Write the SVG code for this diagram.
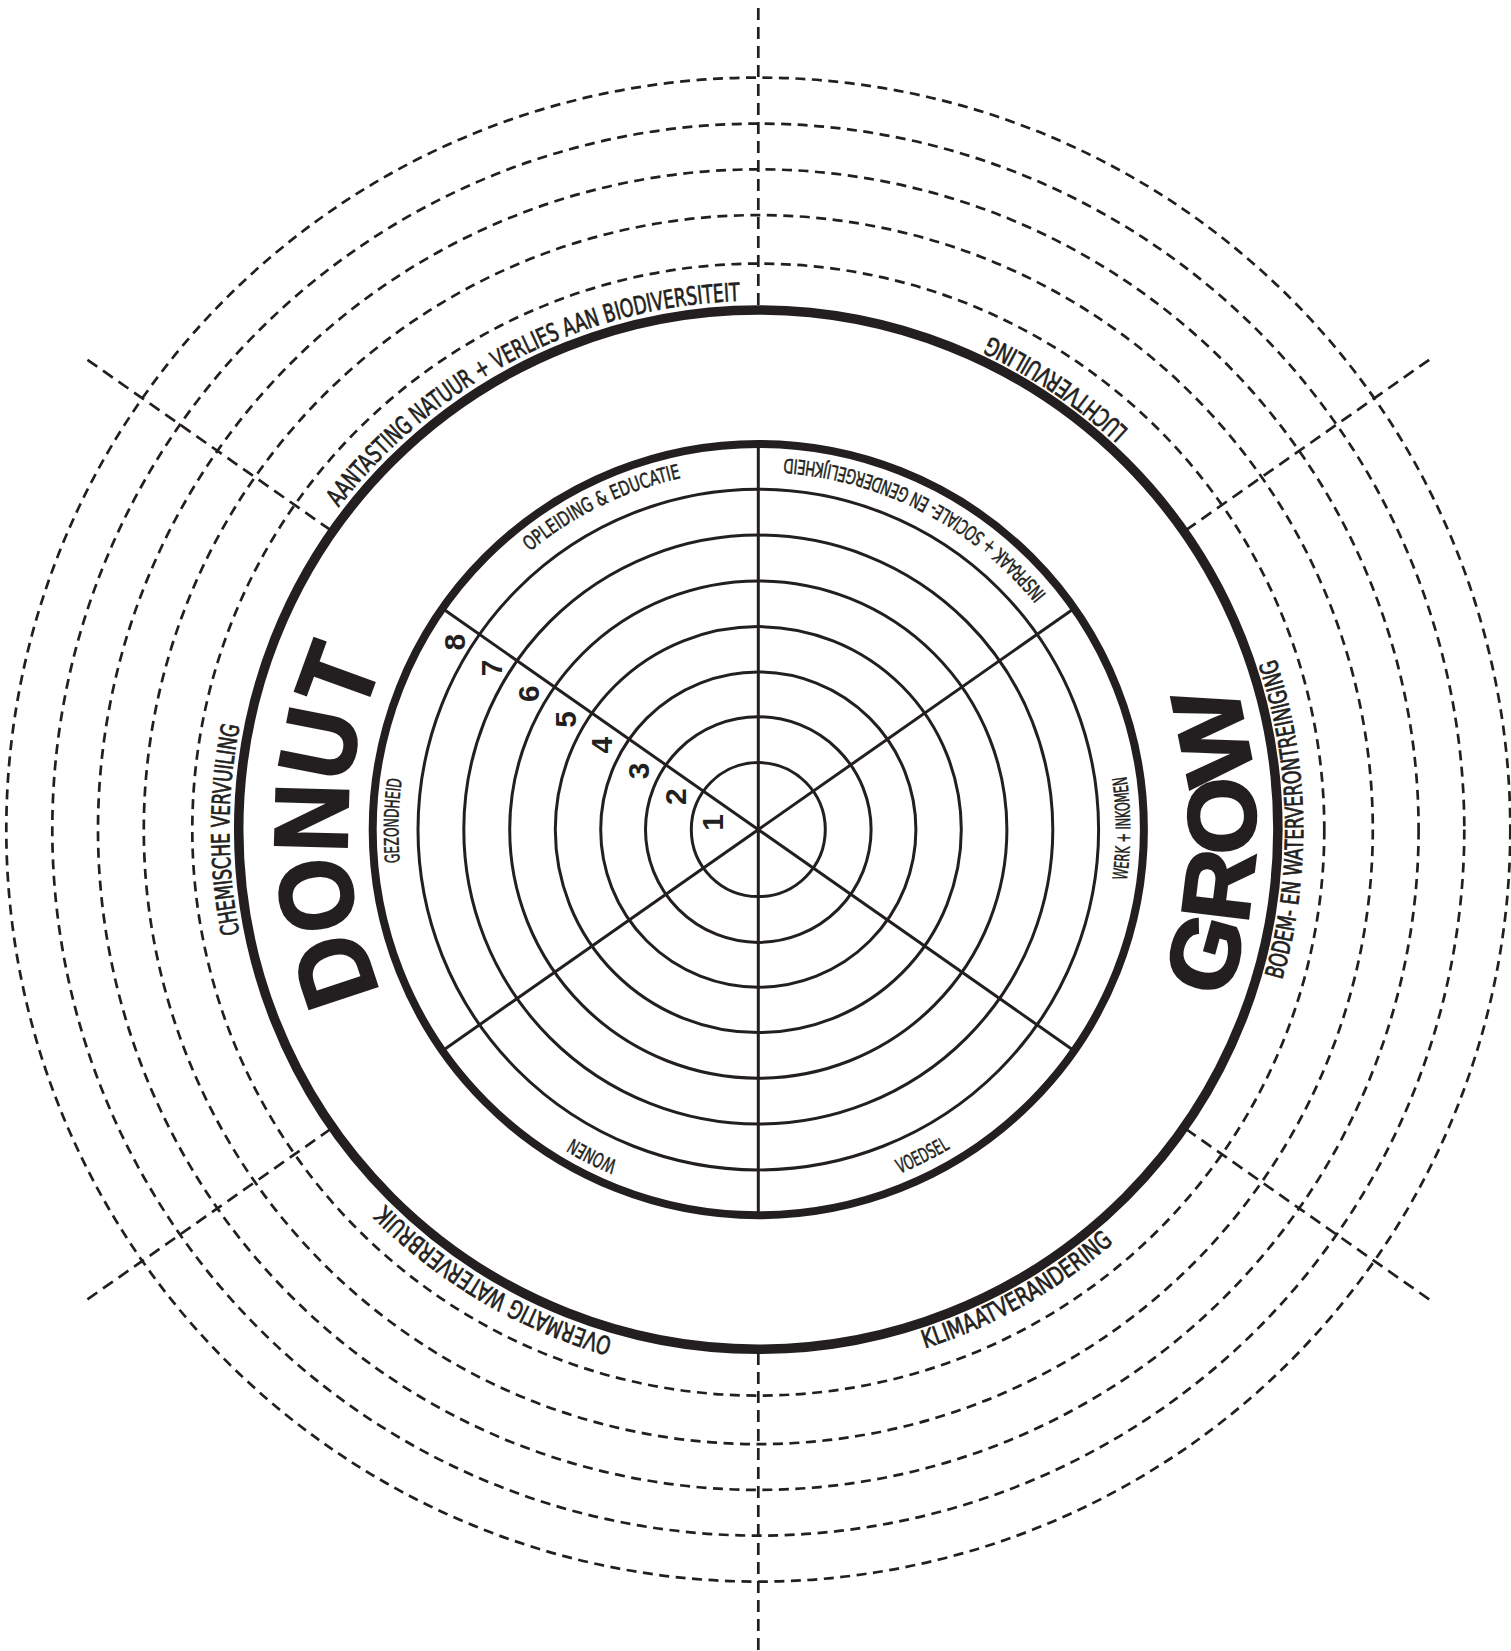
<svg xmlns="http://www.w3.org/2000/svg" width="1511" height="1651" viewBox="0 0 1511 1651">
<style>
.dc{fill:none;stroke:#231f20;stroke-width:2.7;stroke-dasharray:10 6.5}
.dl{fill:none;stroke:#231f20;stroke-width:2.7;stroke-dasharray:12 7}
.ring{fill:none;stroke:#231f20;stroke-width:3}
.spoke{stroke:#231f20;stroke-width:3}
.lbl{font-family:"Liberation Sans Narrow","DejaVu Sans Condensed","Liberation Sans",sans-serif;fill:#231f20;stroke:#231f20;stroke-width:0.7;font-size:25px}
.ilbl{font-family:"Liberation Sans Narrow","DejaVu Sans Condensed","Liberation Sans",sans-serif;fill:#231f20;stroke:#231f20;stroke-width:0.5;font-size:20px}
.num{font-family:"Liberation Sans",Arial,sans-serif;font-weight:bold;font-size:30px;fill:#231f20}
.big{font-family:"Liberation Sans",Arial,sans-serif;font-weight:bold;fill:#231f20;stroke:#231f20;stroke-width:2.5}
</style>
<defs>
<path id="pAan" d="M290.1,583.3 A529,529 0 0 1 829.7,305.4"/>
<path id="pChem" d="M261.2,1010.5 A529,529 0 0 1 261.2,648.7"/>
<path id="pOver" d="M708.5,1356.3 A529,529 0 0 1 322.9,1130.0"/>
<path id="pLucht" d="M1199.2,509.3 A545,545 0 0 0 890.1,300.8"/>
<path id="pBodem" d="M1248.7,1067.2 A545,545 0 0 0 1238.8,572.5"/>
<path id="pKlim" d="M845.9,1367.5 A545,545 0 0 0 1171.2,1185.3"/>
<path id="pOpl" d="M499.8,579.1 A360,360 0 0 1 721.3,471.5"/>
<path id="pGez" d="M408.4,914.2 A360,360 0 0 1 413.0,728.0"/>
<path id="pWon" d="M665.1,1177.3 A360,360 0 0 1 531.8,1109.4"/>
<path id="pInsp" d="M1071.7,629.2 A372,372 0 0 0 741.4,458.0"/>
<path id="pWerk" d="M1117.9,924.6 A372,372 0 0 0 1117.3,732.1"/>
<path id="pVoed" d="M833.7,1193.9 A372,372 0 0 0 1005.8,1107.3"/>
<path id="pDonut" d="M400.9,1032.6 A411,411 0 0 1 403.8,621.6"/>
<path id="pGrow" d="M1182.0,1089.3 A497,497 0 0 0 1195.1,592.4"/>
</defs>
<rect width="1511" height="1651" fill="#ffffff"/>

<g id="dashed-rings">
<circle class="dc" cx="758.3" cy="829.6" r="566"/>
<circle class="dc" cx="758.3" cy="829.6" r="614.5"/>
<circle class="dc" cx="758.3" cy="829.6" r="660.3"/>
<circle class="dc" cx="758.3" cy="829.6" r="706"/>
<circle class="dc" cx="758.3" cy="829.6" r="752"/>
</g>

<g id="connectors">
<line class="dl" x1="758.3" y1="8" x2="758.3" y2="306"/>
<line class="dl" x1="758.3" y1="1353" x2="758.3" y2="1651"/>
<line class="dl" x1="330.7" y1="530.2" x2="87.4" y2="359.8"/>
<line class="dl" x1="1185.9" y1="530.2" x2="1429.2" y2="359.8"/>
<line class="dl" x1="330.7" y1="1129.0" x2="87.4" y2="1299.4"/>
<line class="dl" x1="1185.9" y1="1129.0" x2="1429.2" y2="1299.4"/>
</g>

<g id="outer-ring">
<circle cx="758.3" cy="829.6" r="519.6" fill="none" stroke="#231f20" stroke-width="9.5"/>
</g>

<g id="wheel">
<circle class="ring" cx="758.3" cy="829.6" r="67"/>
<circle class="ring" cx="758.3" cy="829.6" r="112.8"/>
<circle class="ring" cx="758.3" cy="829.6" r="157.6"/>
<circle class="ring" cx="758.3" cy="829.6" r="203"/>
<circle class="ring" cx="758.3" cy="829.6" r="248.6"/>
<circle class="ring" cx="758.3" cy="829.6" r="294.5"/>
<circle class="ring" cx="758.3" cy="829.6" r="340.3"/>
<line class="spoke" x1="758.3" y1="444.6" x2="758.3" y2="1214.6"/>
<line class="spoke" x1="442.9" y1="608.8" x2="1073.7" y2="1050.4"/>
<line class="spoke" x1="442.9" y1="1050.4" x2="1073.7" y2="608.8"/>
<circle cx="758.3" cy="829.6" r="385.6" fill="none" stroke="#231f20" stroke-width="8"/>
</g>

<g id="numbers" class="num" text-anchor="middle" dominant-baseline="central">
<text x="712.4" y="822.5" transform="rotate(-90 712.4 822.5)">1</text>
<text x="675.6" y="796.7" transform="rotate(-90 675.6 796.7)">2</text>
<text x="638.8" y="771.0" transform="rotate(-90 638.8 771.0)">3</text>
<text x="602.0" y="745.2" transform="rotate(-90 602.0 745.2)">4</text>
<text x="565.3" y="719.5" transform="rotate(-90 565.3 719.5)">5</text>
<text x="528.5" y="693.7" transform="rotate(-90 528.5 693.7)">6</text>
<text x="491.7" y="667.9" transform="rotate(-90 491.7 667.9)">7</text>
<text x="454.9" y="642.2" transform="rotate(-90 454.9 642.2)">8</text>
</g>

<g id="inner-labels" class="ilbl" text-anchor="middle">
<text><textPath href="#pOpl" startOffset="50%" textLength="169.6" lengthAdjust="spacingAndGlyphs">OPLEIDING &amp; EDUCATIE</textPath></text>
<text><textPath href="#pGez" startOffset="50%" textLength="83.6" lengthAdjust="spacingAndGlyphs">GEZONDHEID</textPath></text>
<text><textPath href="#pWon" startOffset="50%" textLength="50.3" lengthAdjust="spacingAndGlyphs">WONEN</textPath></text>
<text><textPath href="#pInsp" startOffset="50%" textLength="303.9" lengthAdjust="spacingAndGlyphs">INSPRAAK + SOCIALE- EN GENDERGELIJKHEID</textPath></text>
<text><textPath href="#pWerk" startOffset="50%" textLength="104.5" lengthAdjust="spacingAndGlyphs">WERK + INKOMEN</textPath></text>
<text><textPath href="#pVoed" startOffset="50%" textLength="56.5" lengthAdjust="spacingAndGlyphs">VOEDSEL</textPath></text>
</g>

<g id="outer-labels" class="lbl" text-anchor="middle">
<text><textPath href="#pAan" startOffset="50%" textLength="466.3" lengthAdjust="spacingAndGlyphs">AANTASTING NATUUR + VERLIES AAN BIODIVERSITEIT</textPath></text>
<text><textPath href="#pChem" startOffset="50%" textLength="209.6" lengthAdjust="spacingAndGlyphs">CHEMISCHE VERVUILING</textPath></text>
<text><textPath href="#pOver" startOffset="50%" textLength="266.3" lengthAdjust="spacingAndGlyphs">OVERMATIG WATERVERBRUIK</textPath></text>
<text><textPath href="#pLucht" startOffset="50%" textLength="168.4" lengthAdjust="spacingAndGlyphs">LUCHTVERVUILING</textPath></text>
<text><textPath href="#pBodem" startOffset="50%" textLength="326.3" lengthAdjust="spacingAndGlyphs">BODEM- EN WATERVERONTREINIGING</textPath></text>
<text><textPath href="#pKlim" startOffset="50%" textLength="217.8" lengthAdjust="spacingAndGlyphs">KLIMAATVERANDERING</textPath></text>
</g>

<g id="titles" class="big" text-anchor="middle">
<text font-size="104"><textPath href="#pDonut" startOffset="50%" textLength="339" lengthAdjust="spacingAndGlyphs">DONUT</textPath></text>
<text font-size="96"><textPath href="#pGrow" startOffset="50%" textLength="320" lengthAdjust="spacingAndGlyphs">GROW</textPath></text>
</g>
</svg>
